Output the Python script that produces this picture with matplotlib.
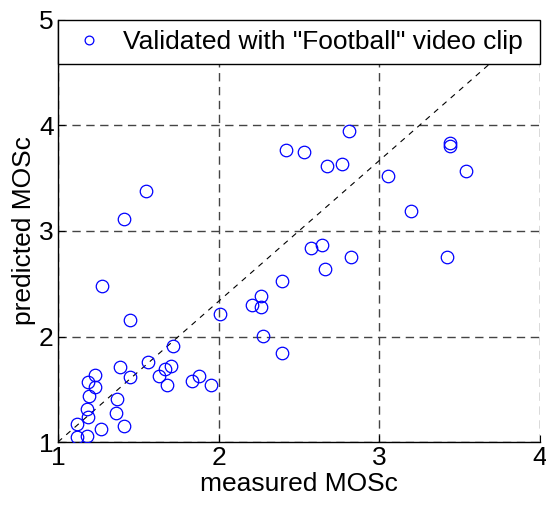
import matplotlib
matplotlib.use("Agg")
import matplotlib.pyplot as plt

# measured vs predicted MOSc
measured = [1.718, 1.558, 1.386, 1.230, 1.189, 1.230, 1.195, 1.448, 1.666, 1.703,
            1.631, 1.680, 1.832, 1.877, 1.952, 1.371, 1.183, 1.189, 1.359, 1.120,
            1.411, 1.268, 1.120, 1.183,
            1.546, 1.409, 1.276, 1.448, 2.008,
            2.813, 2.421, 2.533, 2.676, 2.767, 3.055, 2.572, 2.643, 2.821, 2.661,
            2.394, 2.263, 2.211, 2.263, 2.276, 2.394,
            3.539, 3.441, 3.441, 3.539, 3.195, 3.423]
predicted = [1.913, 1.755, 1.708, 1.635, 1.566, 1.518, 1.439, 1.613, 1.689, 1.720,
             1.626, 1.540, 1.578, 1.626, 1.540, 1.408, 1.313, 1.234, 1.278, 1.168,
             1.152, 1.123, 1.050, 1.057,
             3.379, 3.114, 2.479, 2.156, 2.216,
             3.945, 3.765, 3.752, 3.619, 3.635, 3.524, 2.839, 2.864, 2.757, 2.637,
             2.526, 2.387, 2.299, 2.283, 2.008, 1.841,
             4.984, 3.837, 3.806, 3.572, 3.187, 2.757]
ref_x = [1, 4]
ref_y = [1, 5]

plt.rcParams['font.family'] = ['Liberation Sans', 'DejaVu Sans']

fig = plt.figure(figsize=(5.46, 5.07), dpi=100)
ax = fig.add_axes([0.106, 0.128, 0.883, 0.833])

ax.plot(measured, predicted, 'o', mfc='none', mec='blue', ms=9, mew=0.9,
        label='Validated with "Football" video clip', zorder=3)
ax.plot(ref_x, ref_y, '--', color='black', lw=0.8, dashes=(5, 5), zorder=2)

ax.set_xlim(1, 4)
ax.set_ylim(1, 5)
ax.set_xticks([1, 2, 3, 4])
ax.set_yticks([1, 2, 3, 4, 5])
ax.grid(True, linestyle=(0, (6, 4)), color='#444444', lw=1.0)
ax.tick_params(direction='in', labelsize=19, length=5, pad=3)
ax.spines['top'].set_visible(False)
ax.spines['right'].set_visible(False)
for s in ax.spines.values():
    s.set_linewidth(1.0)

ax.set_xlabel('measured MOSc', fontsize=19, labelpad=1)
ax.set_ylabel('predicted MOSc', fontsize=19, labelpad=2)

leg = ax.legend(loc='upper left', bbox_to_anchor=(0, 0, 1, 1), mode='expand',
                fontsize=19, fancybox=False, framealpha=1,
                edgecolor='black', borderpad=0.38, handlelength=1.6,
                handletextpad=0.5, borderaxespad=0, markerscale=0.7)
leg.get_frame().set_linewidth(1.0)

fig.savefig('out.png', dpi=100)
